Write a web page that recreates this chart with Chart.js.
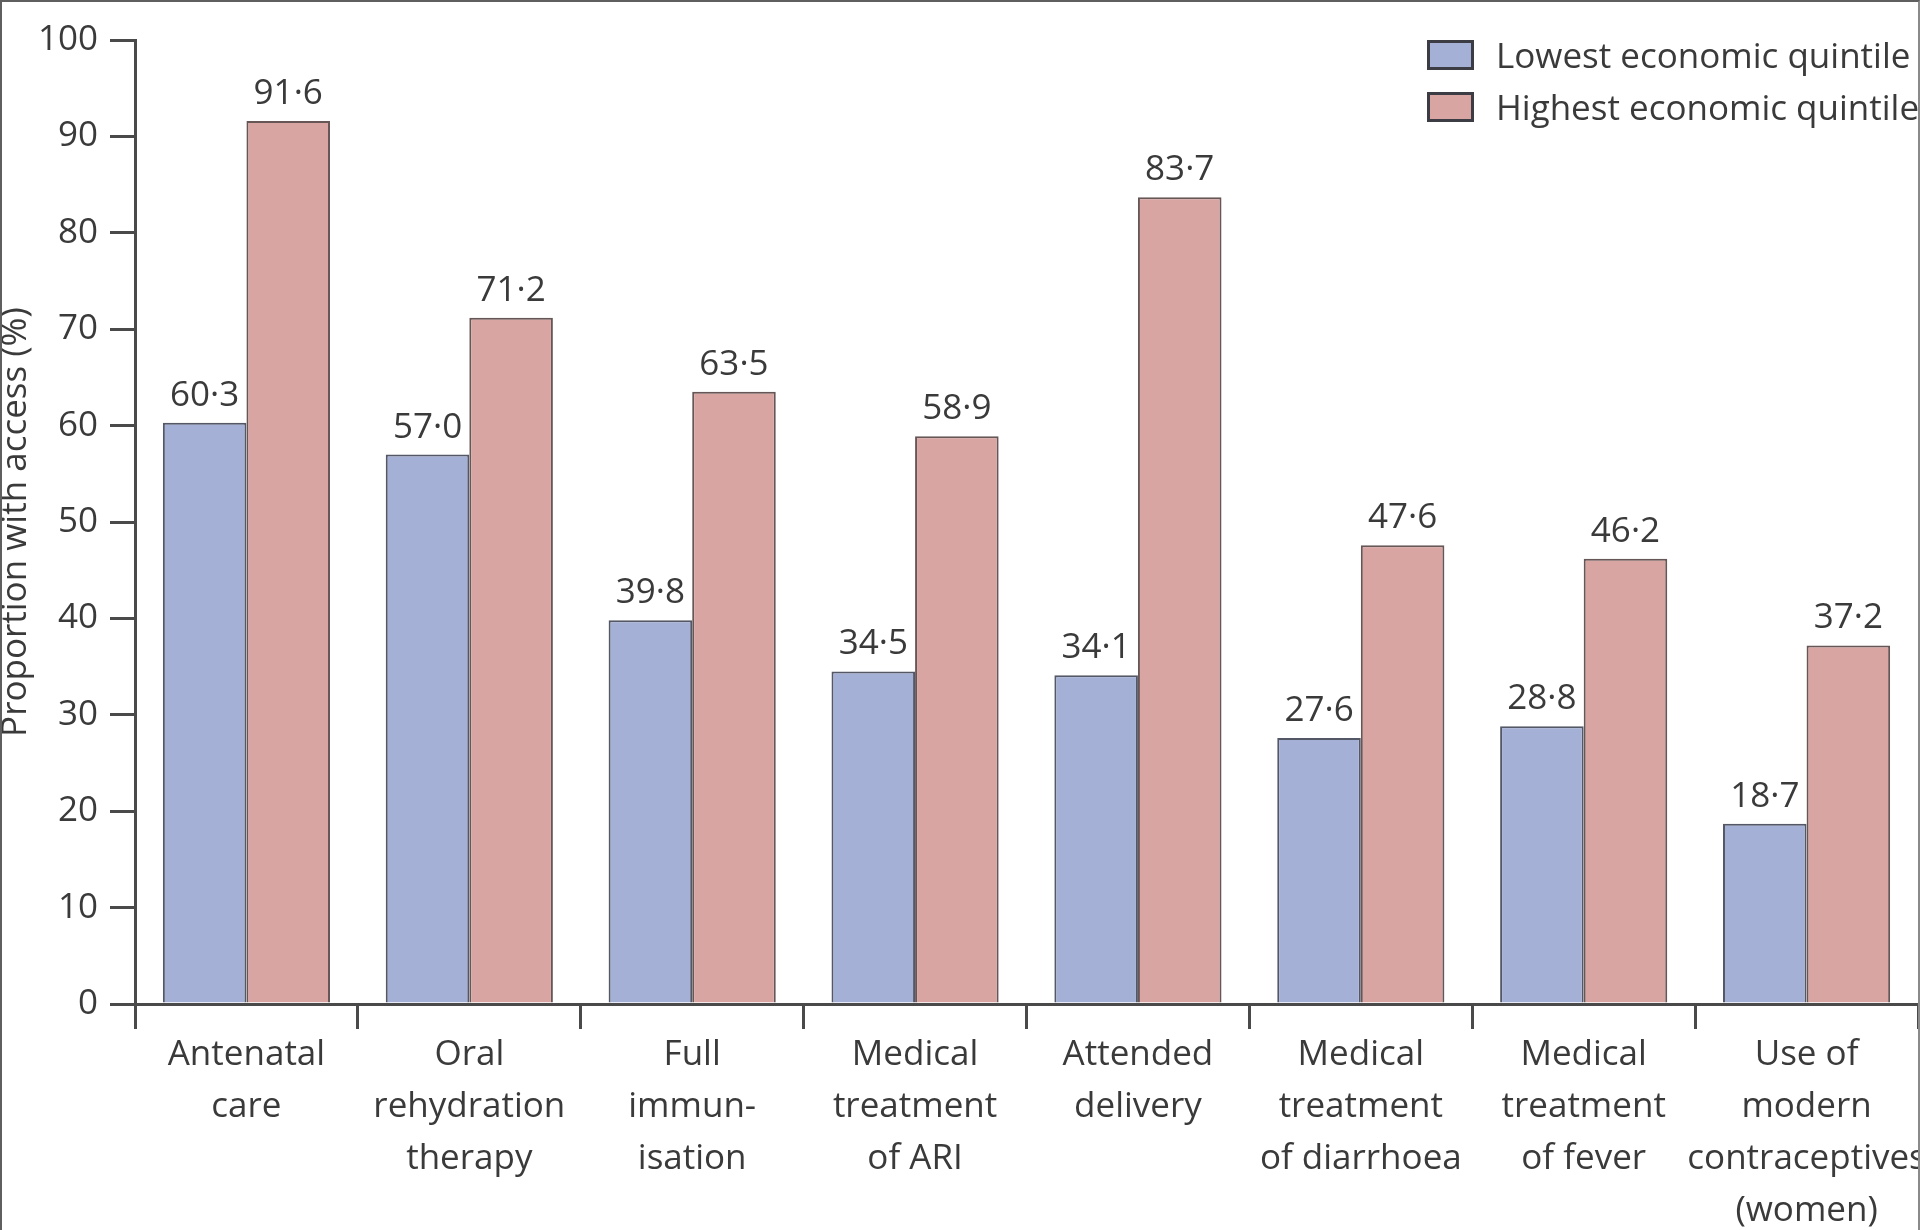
<!DOCTYPE html>
<html>
<head>
<meta charset="utf-8">
<title>Access to health interventions by economic quintile</title>
<script src="https://cdn.jsdelivr.net/npm/chart.js@4.4.1/dist/chart.umd.min.js"></script>
<style>
  html, body { margin: 0; padding: 0; background: #ffffff; overflow: hidden; }
  #wrap { position: relative; width: 1920px; height: 1230px; }
  canvas { display: block; }
  #frame {
    position: absolute; left: 0; top: 0; width: 1920px; height: 1230px;
    box-sizing: border-box; pointer-events: none;
    border-top: 2px solid #5f5f5f; border-left: 2px solid #5f5f5f; border-right: 2px solid #8a8a8a;
  }
</style>
</head>
<body>
<div id="wrap">
  <canvas id="chart" width="1920" height="1230"></canvas>
  <div id="frame"></div>
</div>
<script>
// Intervention categories (multi-line axis labels)
const categories = [
  ['Antenatal', 'care'],
  ['Oral', 'rehydration', 'therapy'],
  ['Full', 'immun-', 'isation'],
  ['Medical', 'treatment', 'of ARI'],
  ['Attended', 'delivery'],
  ['Medical', 'treatment', 'of diarrhoea'],
  ['Medical', 'treatment', 'of fever'],
  ['Use of', 'modern', 'contraceptives', '(women)']
];

// Proportion with access (%), by economic quintile
const lowestQuintile  = [60.3, 57.0, 39.8, 34.5, 34.1, 27.6, 28.8, 18.7];
const highestQuintile = [91.6, 71.2, 63.5, 58.9, 83.7, 47.6, 46.2, 37.2];

const seriesNames = ['Lowest economic quintile', 'Highest economic quintile'];
const yTickValues = [0, 10, 20, 30, 40, 50, 60, 70, 80, 90, 100];
const yAxisTitle = 'Proportion with access (%)';

const FONT = "'Open Sans', 'Liberation Sans', sans-serif";
const TEXT = '#3a3a3a';
const AXIS = '#4a4a4a';
const FONT_SIZE = 35;

// Decimal values are printed with a raised (middle) dot
const formatValue = v => v.toFixed(1).replace('.', '\u00B7');

// Value printed above every bar
const valueLabels = {
  id: 'valueLabels',
  afterDatasetsDraw(chart) {
    const ctx = chart.ctx;
    ctx.save();
    ctx.font = FONT_SIZE + 'px ' + FONT;
    ctx.fillStyle = TEXT;
    ctx.textAlign = 'center';
    ctx.textBaseline = 'alphabetic';
    chart.data.datasets.forEach((ds, i) => {
      chart.getDatasetMeta(i).data.forEach((bar, j) => {
        ctx.fillText(formatValue(ds.data[j]), bar.x, bar.y - 17);
      });
    });
    ctx.restore();
  }
};

// Legend block in the upper-right corner of the plot
const cornerLegend = {
  id: 'cornerLegend',
  afterDraw(chart) {
    const ctx = chart.ctx;
    ctx.save();
    chart.data.datasets.forEach((ds, i) => {
      const top = 40 + i * 52;
      ctx.fillStyle = ds.backgroundColor;
      ctx.fillRect(1427, top, 47, 30);
      ctx.lineWidth = 3;
      ctx.strokeStyle = '#3c3c44';
      ctx.strokeRect(1428.5, top + 1.5, 44, 27);
      ctx.font = FONT_SIZE + 'px ' + FONT;
      ctx.fillStyle = TEXT;
      ctx.textAlign = 'left';
      ctx.textBaseline = 'alphabetic';
      ctx.fillText(ds.label, 1496, top + 28);
    });
    ctx.restore();
  }
};

new Chart(document.getElementById('chart'), {
  type: 'bar',
  data: {
    labels: categories,
    datasets: [
      {
        label: seriesNames[0],
        data: lowestQuintile,
        backgroundColor: '#a4b0d5',
        borderColor: '#545866',
        borderWidth: 2,
        categoryPercentage: 0.75,
        barPercentage: 1.0
      },
      {
        label: seriesNames[1],
        data: highestQuintile,
        backgroundColor: '#d8a5a3',
        borderColor: '#665656',
        borderWidth: 2,
        categoryPercentage: 0.75,
        barPercentage: 1.0
      }
    ]
  },
  options: {
    responsive: false,
    animation: false,
    devicePixelRatio: 1,
    layout: { padding: { top: 40, right: 2, bottom: 0, left: 0 } },
    plugins: {
      legend: { display: false },
      tooltip: { enabled: false }
    },
    scales: {
      x: {
        grid: {
          offset: true,
          drawOnChartArea: false,
          drawTicks: true,
          tickLength: 25,
          lineWidth: 3,
          color: AXIS,
          tickColor: AXIS
        },
        border: { display: true, color: AXIS, width: 3 },
        ticks: {
          color: TEXT,
          font: { family: FONT, size: FONT_SIZE, lineHeight: 1.486 },
          padding: 0,
          maxRotation: 0,
          minRotation: 0,
          autoSkip: false
        },
        afterFit(scale) {
          scale.height = 226;
          scale.paddingLeft = 0;
          scale.paddingRight = 0;
        }
      },
      y: {
        min: 0,
        max: 100,
        afterBuildTicks(scale) {
          scale.ticks = yTickValues.map(v => ({ value: v }));
        },
        grid: {
          drawOnChartArea: false,
          drawTicks: true,
          tickLength: 25,
          lineWidth: 3,
          color: AXIS,
          tickColor: AXIS
        },
        border: { display: true, color: AXIS, width: 3 },
        ticks: {
          color: TEXT,
          font: { family: FONT, size: FONT_SIZE },
          padding: 12
        },
        title: {
          display: true,
          text: yAxisTitle,
          color: TEXT,
          font: { family: FONT, size: FONT_SIZE, lineHeight: 1.2 },
          padding: { top: -5, bottom: 0 }
        },
        afterFit(scale) {
          scale.width = 135;
          scale.paddingTop = 0;
          scale.paddingBottom = 0;
        }
      }
    }
  },
  plugins: [valueLabels, cornerLegend]
});
</script>
</body>
</html>
